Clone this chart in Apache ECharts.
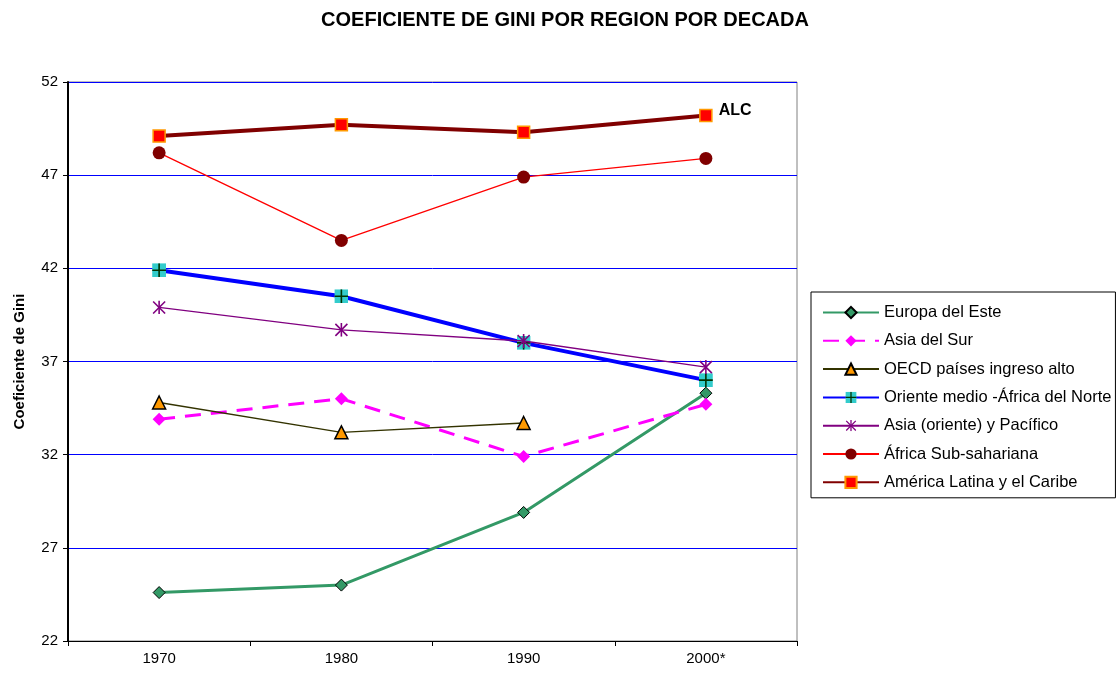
<!DOCTYPE html>
<html>
<head>
<meta charset="utf-8">
<script src="https://cdn.jsdelivr.net/npm/echarts@6/dist/echarts.min.js"></script>
<style>
  html, body { margin: 0; padding: 0; background: #fff; }
  #chart { width: 1117px; height: 675px; }
</style>
</head>
<body>
<div id="chart"></div>
<script>
// datos
var decadas = ['1970', '1980', '1990', '2000*'];
var europaEste = [24.6, 25.0, 28.9, 35.3];
var asiaSur = [33.9, 35.0, 31.9, 34.7];
var oecd = [34.8, 33.2, 33.7, null];
var orienteMedio = [41.9, 40.5, 38.0, 36.0];
var asiaPacifico = [39.9, 38.7, 38.1, 36.7];
var africaSub = [48.2, 43.5, 46.9, 47.9];
var americaLatina = [49.1, 49.7, 49.3, 50.2];
var yTicks = [22, 27, 32, 37, 42, 47, 52];

var fuente = '"Liberation Sans", Arial, sans-serif';

// marcadores especiales (cuadro con cruz, asterisco)
function svgIcon(svg) {
	return 'image://data:image/svg+xml;charset=utf-8,' + encodeURIComponent(svg);
}
var iconoCruz = svgIcon('<svg xmlns="http://www.w3.org/2000/svg" width="14" height="14" viewBox="0 0 14 14">' +
	'<rect x="0" y="0" width="14" height="14" fill="#33CCCC"/>' +
	'<line x1="7" y1="0" x2="7" y2="14" stroke="#003300" stroke-width="1.6"/>' +
	'<line x1="0" y1="7" x2="14" y2="7" stroke="#003300" stroke-width="1.6"/></svg>');
var iconoAsterisco = svgIcon('<svg xmlns="http://www.w3.org/2000/svg" width="14" height="14" viewBox="0 0 14 14">' +
	'<line x1="7" y1="0" x2="7" y2="14" stroke="#800080" stroke-width="1.6"/>' +
	'<line x1="1" y1="1" x2="13" y2="13" stroke="#800080" stroke-width="1.6"/>' +
	'<line x1="13" y1="1" x2="1" y2="13" stroke="#800080" stroke-width="1.6"/></svg>');

var alcData = americaLatina.map(function(v, i) {
	if (i === americaLatina.length - 1) {
		return {
			value: v,
			label: {
				show: true, position: 'right', distance: 8, formatter: 'ALC',
				fontWeight: 'bold', fontSize: 16, color: '#000', fontFamily: fuente,
				offset: [-2, -5]
			}
		};
	}
	return v;
});

var myChart = echarts.init(document.getElementById('chart'), null, { renderer: 'canvas' });
var option = {
	backgroundColor: '#fff',
	animation: false,
	textStyle: { fontFamily: fuente },
	title: {
		text: 'COEFICIENTE DE GINI POR REGION POR DECADA',
		left: 560,
		textAlign: 'center',
		top: 5,
		textStyle: { fontSize: 20, fontWeight: 'bold', color: '#000', fontFamily: fuente }
	},
	grid: {
		left: 68, right: 320, top: 82, bottom: 34,
		show: true, borderColor: '#808080', borderWidth: 1, backgroundColor: '#fff'
	},
	legend: {
		orient: 'vertical',
		left: 811, top: 292,
		padding: [12, 4, 7, 11],
		borderColor: '#000', borderWidth: 1,
		itemWidth: 56, itemHeight: 14, itemGap: 11.3,
		textStyle: { fontSize: 16.5, color: '#000', fontFamily: fuente },
		data: ['Europa del Este', 'Asia del Sur', 'OECD países ingreso alto',
			'Oriente medio -África del Norte', 'Asia (oriente) y Pacífico',
			'África Sub-sahariana', 'América Latina y el Caribe']
	},
	xAxis: {
		type: 'category',
		data: decadas,
		boundaryGap: true,
		axisLine: { lineStyle: { color: '#000', width: 1 } },
		axisTick: { show: true, length: 5, lineStyle: { color: '#000' } },
		axisLabel: { fontSize: 15, color: '#000', margin: 10 },
		splitLine: { show: false }
	},
	yAxis: {
		type: 'value',
		min: 22, max: 52, interval: 5,
		name: 'Coeficiente de Gini',
		nameLocation: 'middle',
		nameGap: 41,
		nameTextStyle: { fontSize: 15, fontWeight: 'bold', color: '#000' },
		axisLine: { show: true, lineStyle: { color: '#000', width: 2 } },
		axisTick: { show: true, length: 5, lineStyle: { color: '#000' } },
		axisLabel: { fontSize: 15, color: '#000', margin: 10,
			formatter: function(v) { return yTicks.indexOf(v) >= 0 ? v : ''; } },
		splitLine: { show: true, lineStyle: { color: '#0000FF', width: 1 } }
	},
	series: [
		{
			name: 'Europa del Este', type: 'line', data: europaEste,
			lineStyle: { color: '#339966', width: 3 },
			symbol: 'diamond', symbolSize: 12,
			itemStyle: { color: '#339966', borderColor: '#000', borderWidth: 1 },
			z: 3
		},
		{
			name: 'Asia del Sur', type: 'line', data: asiaSur,
			lineStyle: { color: '#FF00FF', width: 3, type: [16, 10] },
			symbol: 'diamond', symbolSize: 13,
			itemStyle: { color: '#FF00FF', borderWidth: 0 },
			z: 3
		},
		{
			name: 'OECD países ingreso alto', type: 'line', data: oecd,
			lineStyle: { color: '#333300', width: 1.3 },
			symbol: 'triangle', symbolSize: 13,
			itemStyle: { color: '#FF9900', borderColor: '#000', borderWidth: 1.5 },
			z: 3
		},
		{
			name: 'Oriente medio -África del Norte', type: 'line', data: orienteMedio,
			lineStyle: { color: '#0000FF', width: 4 },
			symbol: iconoCruz, symbolSize: 14,
			itemStyle: { color: '#33CCCC' },
			z: 3
		},
		{
			name: 'Asia (oriente) y Pacífico', type: 'line', data: asiaPacifico,
			lineStyle: { color: '#800080', width: 1.3 },
			symbol: iconoAsterisco, symbolSize: 14,
			itemStyle: { color: '#800080' },
			z: 4
		},
		{
			name: 'África Sub-sahariana', type: 'line', data: africaSub,
			lineStyle: { color: '#FF0000', width: 1.3 },
			symbol: 'circle', symbolSize: 13,
			itemStyle: { color: '#800000', borderWidth: 0 },
			z: 3
		},
		{
			name: 'América Latina y el Caribe', type: 'line', data: alcData,
			lineStyle: { color: '#800000', width: 4 },
			symbol: 'rect', symbolSize: 12,
			itemStyle: { color: '#FF0000', borderColor: '#FF9900', borderWidth: 1.5 },
			z: 3
		}
	]
};
myChart.setOption(option);
</script>
</body>
</html>
